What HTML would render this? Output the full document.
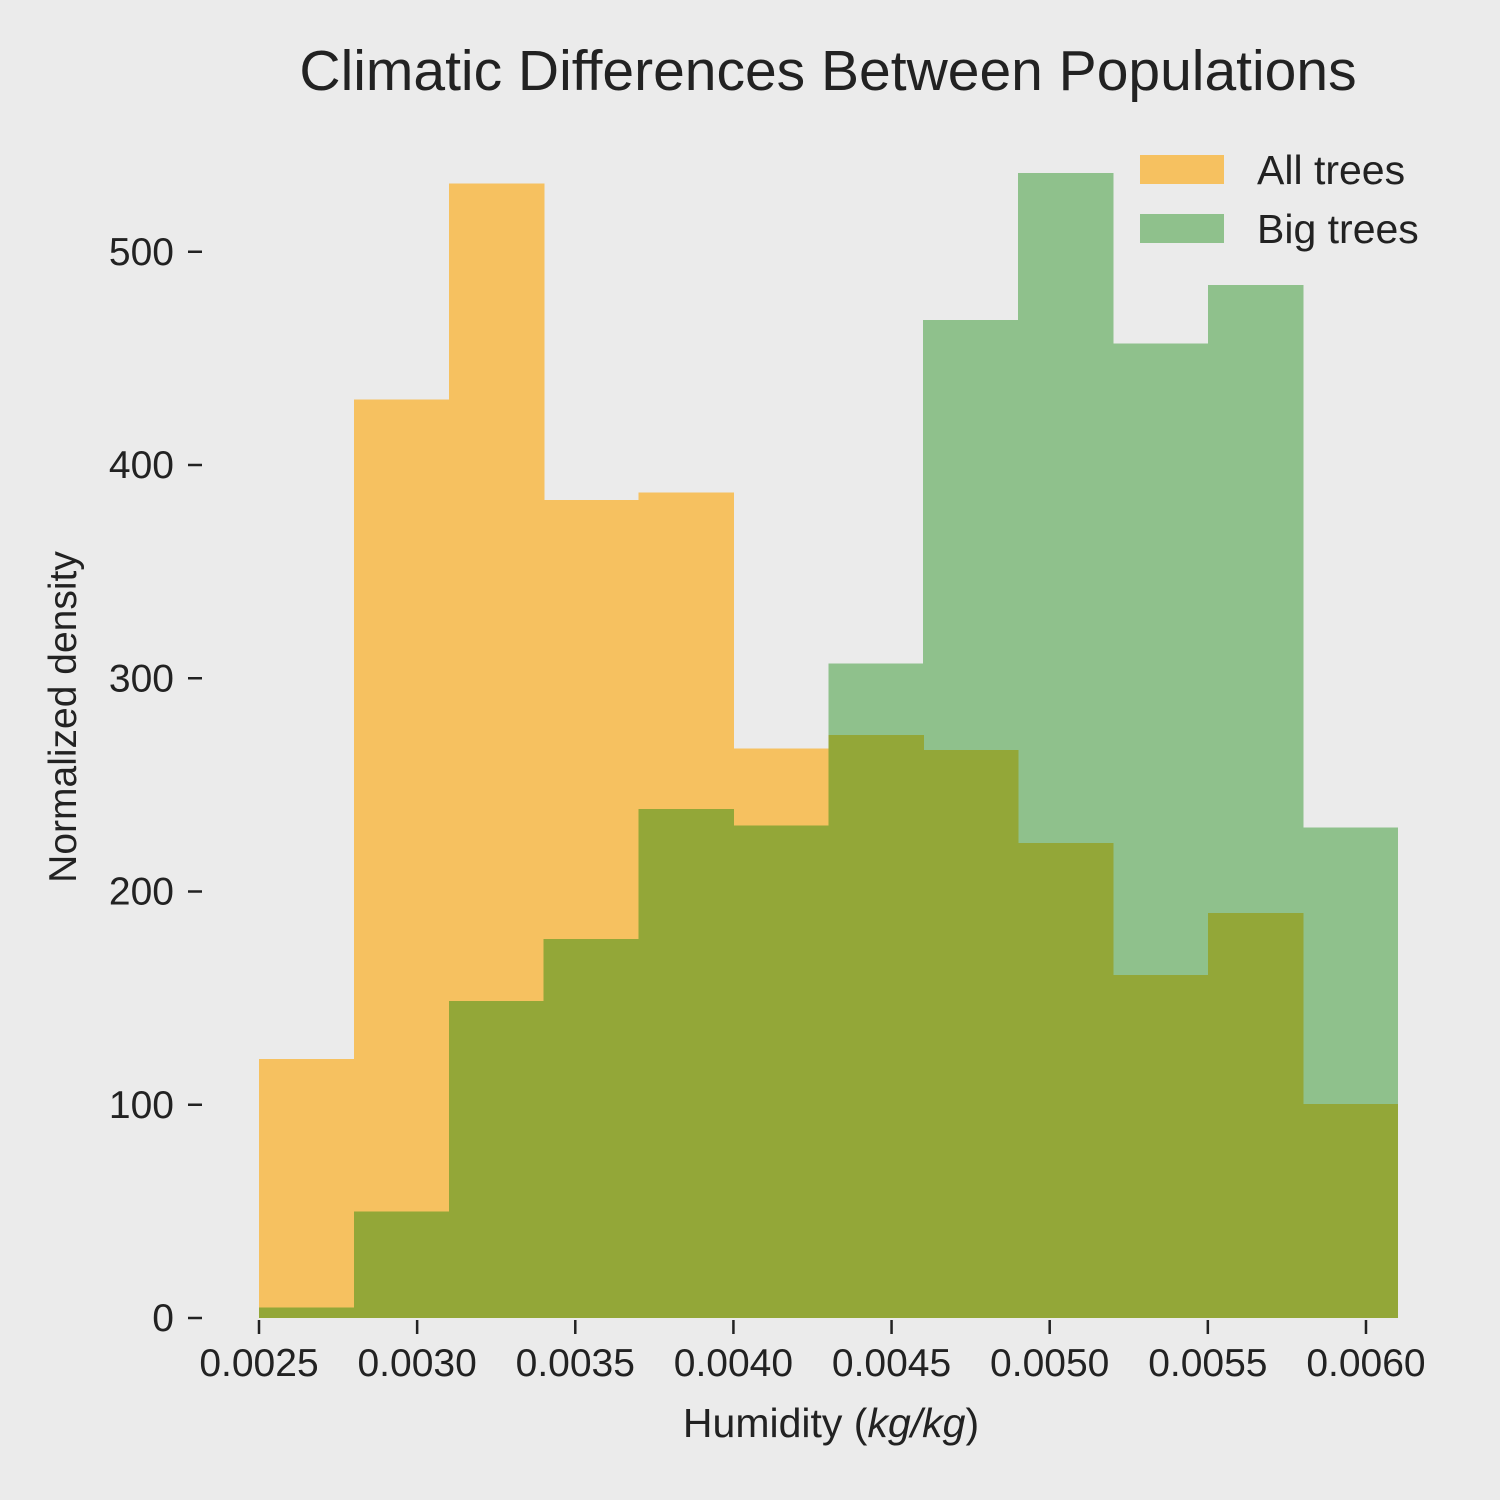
<!DOCTYPE html>
<html><head><meta charset="utf-8"><style>
html,body{margin:0;padding:0;background:#ebebeb;}
svg{display:block;font-family:"Liberation Sans",sans-serif;}
</style></head><body>
<svg id="chart" width="1500" height="1500" viewBox="0 0 1500 1500">
<rect width="1500" height="1500" fill="#ebebeb"/>
<text x="828" y="90" font-size="57" text-anchor="middle" fill="#222">Climatic Differences Between Populations</text>
<g id="bars" shape-rendering="crispEdges"></g>
<g id="axes"></g>
<text x="831" y="1437" font-size="41" text-anchor="middle" fill="#222">Humidity (<tspan font-style="italic">kg/kg</tspan>)</text>
<text transform="translate(76,717) rotate(-90)" font-size="39" text-anchor="middle" fill="#222">Normalized density</text>
<g>
<rect x="1140" y="155" width="84" height="29" fill="#f6c160"/>
<text x="1257" y="184" font-size="41" fill="#222">All trees</text>
<rect x="1140" y="214" width="84" height="29" fill="#8fc18c"/>
<text x="1257" y="243" font-size="41" fill="#222">Big trees</text>
</g>
</svg>
<script>
const binStart = 0.0025;
const binWidth = 0.0003;
const allTrees = [121.5, 430.6, 531.9, 383.7, 387, 267, 273.5, 266.4, 222.8, 160.9, 190, 100.4];
const bigTrees = [5, 50, 148.7, 177.8, 238.7, 231, 307, 468, 537, 457, 484.5, 230];
const xTicks = [0.0025, 0.0030, 0.0035, 0.0040, 0.0045, 0.0050, 0.0055, 0.0060];
const yTicks = [0, 100, 200, 300, 400, 500];

const NS = "http://www.w3.org/2000/svg";
function xs(v){ return 259 + (v - 0.0025) / 0.0005 * 158.14; }
function ys(v){ return 1318 - v * 2.1325; }
const bars = document.getElementById('bars');
const axes = document.getElementById('axes');
function rect(x0, x1, h, fill, name){
  const r = document.createElementNS(NS, 'rect');
  r.setAttribute('x', x0); r.setAttribute('width', x1 - x0 + 0.6);
  r.setAttribute('y', ys(h)); r.setAttribute('height', ys(0) - ys(h));
  r.setAttribute('fill', fill);
  
  
  bars.appendChild(r);
}
allTrees.forEach((v, i) => {
  const x0 = xs(binStart + i * binWidth), x1 = xs(binStart + (i + 1) * binWidth);
  rect(x0, x1, v, '#f6c160', 'all-trees-bar');
});
bigTrees.forEach((v, i) => {
  const x0 = xs(binStart + i * binWidth), x1 = xs(binStart + (i + 1) * binWidth);
  rect(x0, x1, v, '#8fc18c', 'big-trees-bar');
});
bigTrees.forEach((v, i) => {
  const x0 = xs(binStart + i * binWidth), x1 = xs(binStart + (i + 1) * binWidth);
  rect(x0, x1, Math.min(v, allTrees[i]), '#93a738', 'overlap-bar');
});
xTicks.forEach(t => {
  const x = xs(t);
  const l = document.createElementNS(NS, 'line');
  l.setAttribute('x1', x); l.setAttribute('x2', x); l.setAttribute('y1', 1320); l.setAttribute('y2', 1334);
  l.setAttribute('stroke', '#222'); l.setAttribute('stroke-width', 2.5);
  
  
  axes.appendChild(l);
  const tx = document.createElementNS(NS, 'text');
  tx.setAttribute('x', x); tx.setAttribute('y', 1376);
  tx.setAttribute('font-size', 39); tx.setAttribute('text-anchor', 'middle'); tx.setAttribute('fill', '#222');
  tx.textContent = t.toFixed(4);
  
  
  axes.appendChild(tx);
});
yTicks.forEach(t => {
  const y = ys(t);
  const l = document.createElementNS(NS, 'line');
  l.setAttribute('x1', 188); l.setAttribute('x2', 202); l.setAttribute('y1', y); l.setAttribute('y2', y);
  l.setAttribute('stroke', '#222'); l.setAttribute('stroke-width', 2.5);
  
  
  axes.appendChild(l);
  const tx = document.createElementNS(NS, 'text');
  tx.setAttribute('x', 174); tx.setAttribute('y', y + 13);
  tx.setAttribute('font-size', 39); tx.setAttribute('text-anchor', 'end'); tx.setAttribute('fill', '#222');
  tx.textContent = t;
  
  
  axes.appendChild(tx);
});
</script>
</body></html>
